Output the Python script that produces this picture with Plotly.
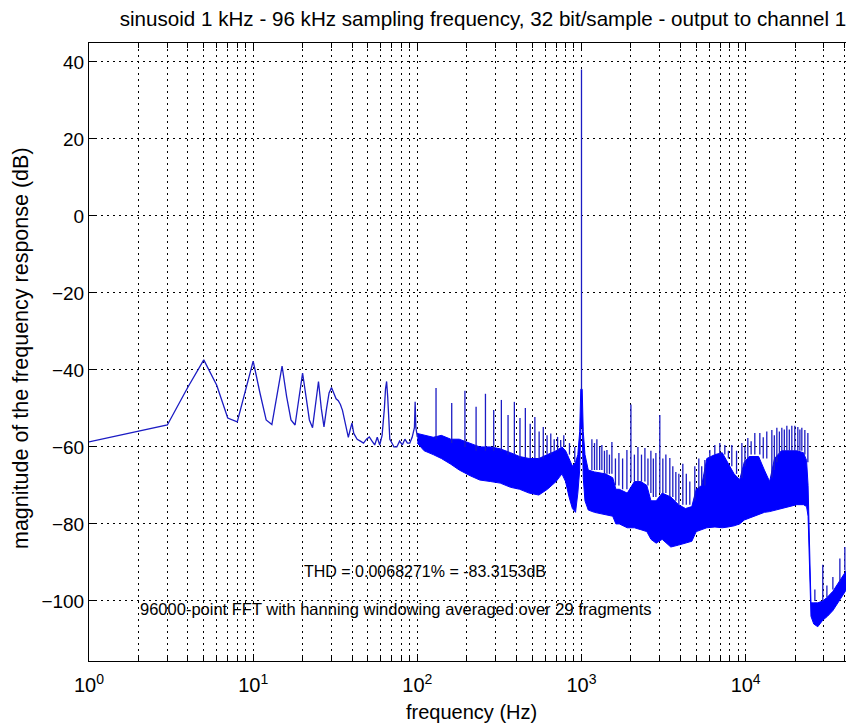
import plotly.graph_objects as go

# ---------------- data ----------------
title_text = "sinusoid 1 kHz - 96 kHz sampling frequency, 32 bit/sample - output to channel 1"
thd_text = "THD = 0.0068271% = -83.3153dB"
fft_text = "96000-point FFT with hanning windowing averaged over 29 fragments"
x_label = "frequency (Hz)"
y_label = "magnitude of the frequency response (dB)"

# low-frequency part of the spectrum (1 Hz bins), Hz / dB
f_low = [1, 2, 3, 4, 5, 6, 7, 8, 9, 10, 11, 12, 13, 14, 15, 16, 17, 18, 19, 20,
         21, 22, 23, 24, 25, 26, 27, 28, 29, 30, 31, 32, 33, 34, 35, 36, 37, 38, 39, 40,
         41, 43, 45, 47, 49, 51, 53, 55, 57, 59, 61, 62, 63, 64, 65, 66, 67, 68, 70, 72,
         75, 78, 81, 84, 87, 90, 93, 95, 96, 97, 98, 100]
db_low = [-58.7, -56.0, -54.3, -44.5, -37.4, -44.0, -52.5, -53.5, -45.0, -37.7,
          -46.0, -53.0, -54.2, -46.0, -39.0, -47.0, -53.0, -54.3, -47.0, -40.8,
          -47.0, -53.0, -55.0, -49.0, -43.0, -50.0, -54.8, -50.0, -46.0, -44.6,
          -46.0, -47.5, -48.0, -49.0, -50.5, -53.0, -55.5, -57.5, -55.5, -53.8,
          -56.5, -58.0, -58.5, -59.0, -58.0, -57.4, -58.5, -59.5, -57.5, -59.5,
          -57.0, -54.0, -50.0, -45.0, -43.0, -47.0, -55.0, -58.0, -59.0, -60.0,
          -60.0, -58.5, -59.5, -58.0, -59.0, -59.0, -57.5, -56.0, -55.0, -48.3,
          -55.0, -57.4]

# dense noise band above 100 Hz: frequency, upper and lower envelope (dB)
f_band = [100, 110, 125, 140, 160, 180, 210, 240, 280, 320, 370, 420, 480, 550,
          620, 700, 760, 800, 840, 880, 920, 950, 975, 990, 1010, 1025, 1050,
          1100, 1200, 1400, 1550, 1620, 1700, 1900, 2100, 2300, 2500, 2650, 2850,
          3100, 3500, 3900, 4300, 4700, 5000, 5400, 5800, 6500, 7200, 7800, 8500,
          9200, 9800, 10500, 12000, 13000, 14000, 15000, 16500, 18500, 20500,
          22500, 23500, 24000, 24500, 25000, 26000, 27500, 29500, 31500, 34000,
          37000, 40500, 44000, 46000]
band_hi = [-56.5, -57.0, -57.5, -57.0, -58.0, -58.0, -59.0, -60.0, -60.0, -60.5,
           -61.5, -62.5, -63.0, -63.0, -62.0, -61.0, -60.0, -61.0, -63.0, -65.0,
           -64.0, -62.0, -56.0, -45.0, -45.0, -56.0, -62.0, -66.0, -66.5, -67.0,
           -68.0, -71.0, -71.0, -72.0, -69.0, -69.0, -70.0, -74.0, -74.0, -72.0,
           -73.0, -75.0, -76.0, -75.5, -71.0, -70.0, -63.0, -62.0, -61.5, -64.0,
           -67.0, -68.5, -64.0, -62.5, -62.5, -66.0, -69.0, -63.0, -61.0, -61.0,
           -61.0, -61.5, -63.5, -70.0, -88.0, -100.5, -100.5, -100.5, -100.0,
           -99.0, -97.5, -95.0, -92.5, -89.5, -88.0]
band_lo = [-59.0, -61.0, -62.0, -63.0, -64.5, -66.0, -67.5, -68.6, -69.0, -69.4,
           -70.5, -71.0, -72.0, -72.5, -71.0, -69.0, -67.0, -69.0, -73.0, -76.0,
           -77.0, -72.0, -66.0, -55.0, -55.0, -68.0, -74.0, -76.4, -77.0, -77.5,
           -78.0, -80.0, -80.0, -81.0, -81.0, -81.5, -82.0, -84.0, -85.0, -84.0,
           -86.0, -85.5, -85.0, -84.5, -82.0, -81.5, -81.0, -80.8, -81.0, -80.8,
           -80.5, -80.0, -79.0, -78.5, -77.5, -77.0, -76.8, -76.5, -76.0, -75.5,
           -75.0, -75.0, -75.5, -78.0, -92.0, -104.0, -106.0, -106.7, -105.0,
           -104.0, -102.5, -100.0, -97.5, -94.5, -93.0]

# narrow spectral lines: frequency, foot and top (dB)
spike_f = [130, 162, 195, 228, 260, 292, 325, 357, 390, 422, 455, 487, 520, 552,
           585, 617, 650, 682, 715, 747, 780, 845, 910, 1000,
           1157, 1200, 1241, 1290, 1331, 1380, 1429, 1480, 1532, 1610, 1690, 1780,
           1891, 2000, 2100, 2207, 2320, 2434, 2540, 2647, 2740, 2839, 3000, 3130,
           3266, 3452, 3600, 3756, 3918, 4143, 4350, 4569, 4901, 5185, 5400, 5643,
           6050, 6489, 6960, 7465, 7850, 8236, 8800, 9483, 9900, 10310, 10800,
           11370, 12200, 12800, 13450, 14440, 14950, 15490, 16050, 16610, 17200,
           17820, 18450, 19110, 19930, 20790, 21400, 21990, 22940, 23930,
           26400, 29500, 31250, 33990, 37490, 40200, 41900, 44970]
spike_base = [-58, -59, -60, -61, -61, -61, -61, -62, -62, -63, -63, -63, -63, -63,
              -63, -62, -62, -61, -61, -60, -60, -62, -64, -45,
              -66, -66, -66, -66, -66, -67, -67, -67, -67, -70, -70, -71,
              -71, -69, -69, -69, -69, -69, -70, -72, -73, -73, -72, -72,
              -72, -73, -73, -74, -75, -75, -75, -75, -74, -71, -70, -70,
              -63, -62, -62, -62, -63, -65, -67, -68, -65, -63, -62,
              -62, -62, -63, -63, -68, -66, -64, -62, -61, -61,
              -61, -61, -61, -61, -61, -61, -61, -62, -64,
              -100, -100, -99, -97, -95, -92, -91, -89]
spike_top = [-44.7, -48.6, -45.4, -49.6, -46.2, -50.4, -47.8, -51.7, -48.3, -52.5,
             -49.9, -54.0, -52.2, -56.0, -54.8, -57.0, -56.5, -58.0, -57.4, -58.2,
             -57.0, -59.0, -60.0, 38.0,
             -58.0, -59.0, -58.0, -60.0, -59.5, -61.0, -60.8, -62.0, -58.7, -63.0,
             -61.6, -63.0, -60.8, -49.0, -62.0, -60.0, -62.0, -60.3, -63.0, -61.0,
             -63.0, -61.6, -51.7, -63.0, -62.0, -62.9, -65.0, -66.5, -67.0, -64.4,
             -67.0, -69.0, -65.0, -63.0, -65.0, -63.4, -60.8, -59.5, -59.0, -59.5,
             -61.0, -59.5, -61.0, -59.0, -60.0, -57.7, -58.5, -56.4, -56.4, -57.5,
             -56.0, -55.6, -57.0, -55.0, -56.0, -55.0, -55.5, -54.5, -55.5, -54.5,
             -54.5, -54.8, -55.5, -55.0, -55.6, -56.4,
             -97.0, -90.6, -96.0, -93.8, -89.0, -86.0, -85.0, -78.0]

x_major = [1, 10, 100, 1000, 10000]
x_major_labels = ["10<sup>0</sup>", "10<sup>1</sup>", "10<sup>2</sup>",
                  "10<sup>3</sup>", "10<sup>4</sup>"]
y_ticks = [-100, -80, -60, -40, -20, 0, 20, 40]

# ---------------- figure ----------------
FILL = "#0000ff"
LINE = "#1c1cc4"
FONT = "Liberation Sans, Arial, sans-serif"

x_minor = [m * d for d in x_major for m in range(2, 10)]

# The page body has an 8 px default margin: the figure is drawn 8 px smaller
# so that the plot area lands where it is in the reference picture.
OFF = 8
L, R, T, B = 89, 854, 43, 661          # plot area in page pixels
W, H = 854 - OFF, 724 - OFF            # figure size


def px(x):
    return (x - L) / (R - L)


def py(y):
    return (B - y) / (B - T)


fig = go.Figure()
fig.add_trace(go.Scatter(x=f_band, y=band_lo, mode="lines",
                         line=dict(color=FILL, width=1), hoverinfo="skip"))
fig.add_trace(go.Scatter(x=f_band, y=band_hi, mode="lines", fill="tonexty",
                         fillcolor=FILL, line=dict(color=FILL, width=1),
                         hoverinfo="skip"))
sx, sy = [], []
for f, b, t in zip(spike_f, spike_base, spike_top):
    sx += [f, f, None]
    sy += [b, t, None]
fig.add_trace(go.Scatter(x=sx, y=sy, mode="lines",
                         line=dict(color=LINE, width=1.3), hoverinfo="skip"))
fig.add_trace(go.Scatter(x=f_low, y=db_low, mode="lines",
                         line=dict(color=LINE, width=1.3)))

fig.update_layout(
    width=W, height=H,
    margin=dict(l=L - OFF, r=0, t=T - OFF, b=H - (B - OFF), autoexpand=False),
    paper_bgcolor="white", plot_bgcolor="white",
    showlegend=False,
    font=dict(family=FONT, color="black", size=19),
    title=dict(text=title_text, x=(483 - OFF) / W, xanchor="center",
               y=1 - (19 - OFF) / H, yanchor="middle", yref="container",
               font=dict(size=20.6, family=FONT, color="black")),
)
grid_dash = "2px,4px"
fig.update_xaxes(type="log", range=[0, 4.66], automargin=False,
                 tickmode="array", tickvals=x_major, ticktext=x_major_labels,
                 tickangle=0, ticklabelstandoff=6,
                 ticks="inside", ticklen=7, tickcolor="black",
                 showgrid=True, gridcolor="black", gridwidth=1, griddash=grid_dash,
                 minor=dict(tickmode="array", tickvals=x_minor, ticks="inside",
                            ticklen=5, tickcolor="black", showgrid=True,
                            gridcolor="black", gridwidth=1, griddash=grid_dash),
                 showline=True, linecolor="black", linewidth=1, mirror="ticks",
                 zeroline=False, tickfont=dict(size=20))
fig.update_yaxes(range=[-115.6, 44.9], tickvals=y_ticks, automargin=False,
                 ticks="inside", ticklen=7, tickcolor="black",
                 showgrid=True, gridcolor="black", gridwidth=1, griddash=grid_dash,
                 showline=True, linecolor="black", linewidth=1, mirror="ticks",
                 zeroline=False, tickfont=dict(size=19))

fig.add_annotation(text=thd_text, xref="paper", yref="paper",
                   x=px(425), y=py(571), xanchor="center", yanchor="middle",
                   showarrow=False, font=dict(size=16, family=FONT))
fig.add_annotation(text=fft_text, xref="paper", yref="paper",
                   x=px(396), y=py(609), xanchor="center", yanchor="middle",
                   showarrow=False, font=dict(size=16.5, family=FONT))
fig.add_annotation(text=x_label, xref="paper", yref="paper",
                   x=px(471), y=py(712), xanchor="center", yanchor="middle",
                   showarrow=False, font=dict(size=20, family=FONT))
fig.add_annotation(text=y_label, xref="paper", yref="paper",
                   x=px(21), y=py(348), xanchor="center", yanchor="middle",
                   textangle=-90,
                   showarrow=False, font=dict(size=21.5, family=FONT))

fig.write_html("out.html")
